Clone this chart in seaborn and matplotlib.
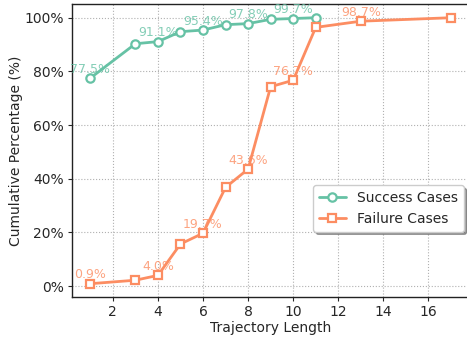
import numpy as np
import pandas as pd
import matplotlib
matplotlib.use("Agg")
import matplotlib.pyplot as plt
import seaborn as sns
from matplotlib.ticker import PercentFormatter

# datos
success_len = [1, 3, 4, 5, 6, 7, 8, 9, 10, 11]
success_pct = [77.5, 90.3, 91.1, 94.8, 95.4, 97.4, 97.8, 99.4, 99.7, 100.0]
failure_len = [1, 3, 4, 5, 6, 7, 8, 9, 10, 11, 13, 17]
failure_pct = [0.9, 2.2, 4.0, 15.7, 19.7, 36.8, 43.6, 74.3, 76.7, 96.4, 98.7, 100.0]

green = "#66c2a5"
orange = "#fc8d62"

df_s = pd.DataFrame({"len": success_len, "pct": success_pct})
df_f = pd.DataFrame({"len": failure_len, "pct": failure_pct})

sns.set_style("white")
plt.rcParams["font.family"] = ["DejaVu Sans"]

fig = plt.figure(figsize=(4.67, 3.37), dpi=100)
ax = fig.add_axes([0.1548, 0.1187, 0.8495, 0.8682])

sns.lineplot(data=df_s, x="len", y="pct", ax=ax, color=green, marker="o",
             markersize=6, markerfacecolor="white", markeredgecolor=green,
             markeredgewidth=1.6, linewidth=2, label="Success Cases")
sns.lineplot(data=df_f, x="len", y="pct", ax=ax, color=orange, marker="s",
             markersize=6, markerfacecolor="white", markeredgecolor=orange,
             markeredgewidth=1.6, linewidth=2, label="Failure Cases")

# etiquetas cada dos puntos
for i in range(0, len(success_len), 2):
    ax.annotate(f"{success_pct[i]:.1f}%", (success_len[i], success_pct[i]),
                textcoords="offset points", xytext=(0, 4), ha="center",
                fontsize=9, color=green, alpha=0.8)
for i in range(0, len(failure_len), 2):
    ax.annotate(f"{failure_pct[i]:.1f}%", (failure_len[i], failure_pct[i]),
                textcoords="offset points", xytext=(0, 4), ha="center",
                fontsize=9, color=orange, alpha=0.8)

ax.yaxis.set_major_formatter(PercentFormatter(decimals=0))
ax.set_xticks([2, 4, 6, 8, 10, 12, 14, 16])
ax.set_yticks([0, 20, 40, 60, 80, 100])
ax.tick_params(axis="both", labelsize=10, direction="out", length=3, width=0.8,
               pad=3, left=True, bottom=True)
ax.set_xlabel("Trajectory Length", fontsize=10, labelpad=1)
ax.set_ylabel("Cumulative Percentage (%)", fontsize=10, labelpad=1)
ax.grid(True, linestyle=":", color="#b0b0b0", linewidth=0.8)
for s in ax.spines.values():
    s.set_color("#222222")
    s.set_linewidth(1.0)

ax.legend(loc="lower right", bbox_to_anchor=(1.005, 0.2), fontsize=10, shadow=True,
          frameon=True, fancybox=True)

fig.savefig("out.png", dpi=100)
